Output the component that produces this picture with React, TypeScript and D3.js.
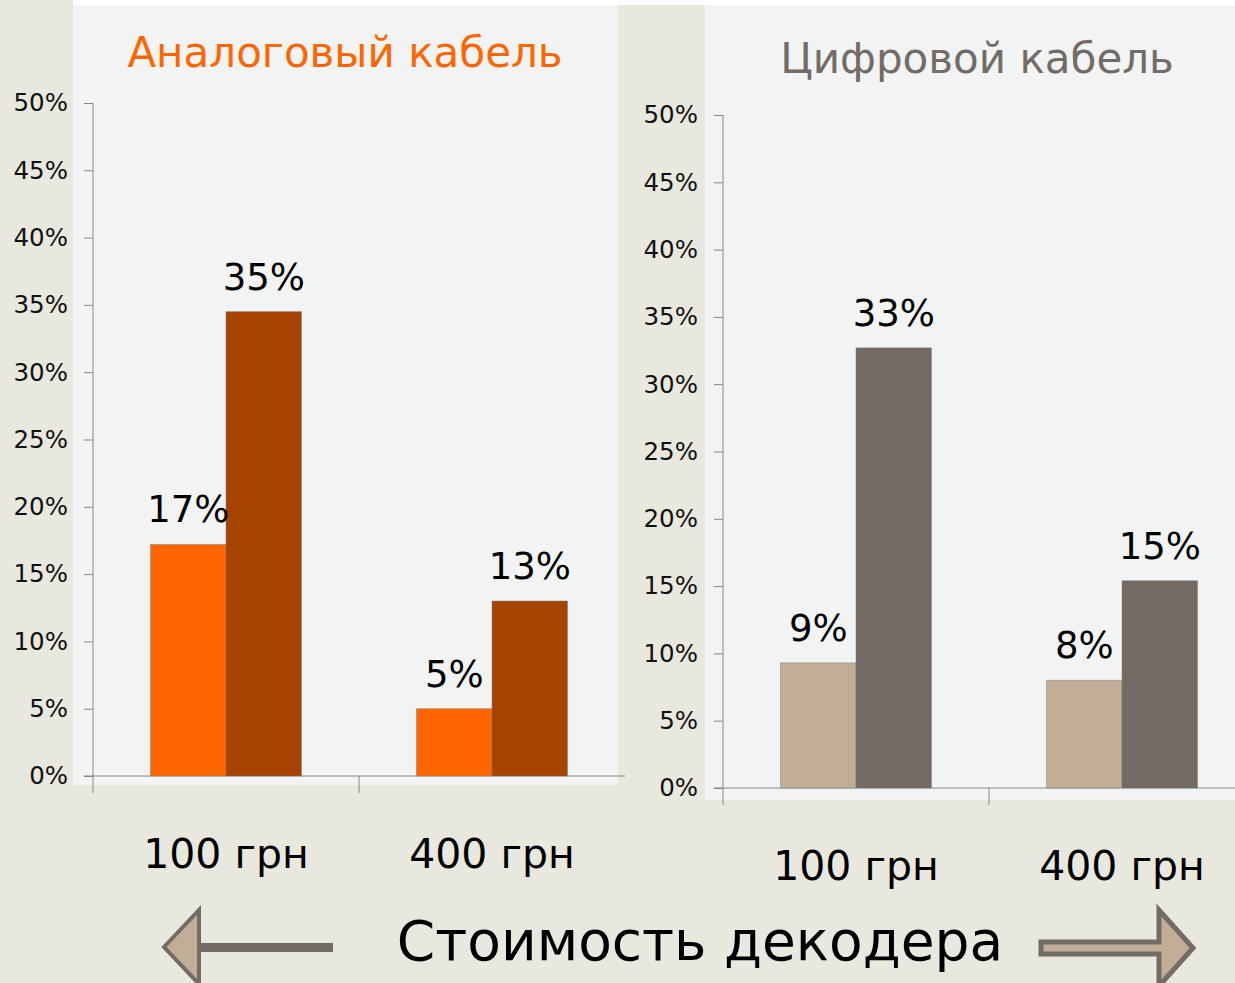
import React, { useEffect, useRef } from 'react';
import * as d3 from 'd3';

const categories = ['100 грн', '400 грн'];
const analogLight = [17.2, 5.0];
const analogDark = [34.5, 13.0];
const analogLabels = [['17%', '35%'], ['5%', '13%']];
const digitalLight = [9.3, 8.0];
const digitalDark = [32.7, 15.4];
const digitalLabels = [['9%', '33%'], ['8%', '15%']];
const yTicks = [0, 5, 10, 15, 20, 25, 30, 35, 40, 45, 50];

const FONT = '"DejaVu Sans", Verdana, sans-serif';

const App = () => {
    const svgRef = useRef<SVGSVGElement>(null);

    useEffect(() => {
        const svg = d3.select(svgRef.current);
        svg.selectAll('*').remove();

        // backgrounds
        svg.append('rect').attr('width', 1235).attr('height', 983).attr('fill', '#E9E8DE');
        svg.append('rect').attr('x', 73).attr('y', 0).attr('width', 1162).attr('height', 5).attr('fill', '#ffffff');
        svg.append('rect').attr('x', 73).attr('y', 5).attr('width', 545).attr('height', 780).attr('fill', '#F2F4F3');
        svg.append('rect').attr('x', 705).attr('y', 5).attr('width', 530).attr('height', 795).attr('fill', '#F2F4F3');

        const drawChart = (opts) => {
            const { x0, y0, title, titleColor, titleX, titleY, light, dark, labels, cLight, cDark, catY } = opts;
            const plotW = 532;
            const plotH = 673;
            const g = svg.append('g').attr('transform', `translate(${x0},${y0 - plotH})`);

            const x = d3.scaleBand().domain(categories).range([0, plotW]);
            const y = d3.scaleLinear().domain([0, 50]).range([plotH, 0]);
            const barW = 75.5;

            svg.append('text')
                .attr('x', titleX).attr('y', titleY)
                .attr('text-anchor', 'middle')
                .attr('font-family', FONT).attr('font-size', 42)
                .attr('fill', titleColor)
                .text(title);

            // y axis
            const yAxis = g.append('g')
                .call(d3.axisLeft(y).tickValues(yTicks).tickSize(9).tickPadding(16).tickFormat(d => `${d}%`));
            yAxis.select('.domain').attr('stroke', '#868686').attr('d', `M0,${plotH + 17}V0`);
            yAxis.selectAll('.tick line').attr('stroke', '#868686');
            yAxis.selectAll('.tick text')
                .attr('font-family', FONT).attr('font-size', 24.5).attr('fill', '#111');

            // x axis
            const xAxis = g.append('g').attr('transform', `translate(0,${plotH})`);
            xAxis.append('line').attr('x1', -9).attr('x2', plotW).attr('stroke', '#868686');
            xAxis.selectAll('.cat-tick')
                .data(categories.slice(1))
                .enter().append('line')
                .attr('x1', d => x(d)).attr('x2', d => x(d))
                .attr('y1', 0).attr('y2', 17)
                .attr('stroke', '#868686');

            const cats = g.selectAll('.cat')
                .data(categories)
                .enter().append('g')
                .attr('transform', d => `translate(${x(d) + x.bandwidth() / 2},0)`);

            cats.append('rect')
                .attr('x', -barW).attr('width', barW)
                .attr('y', (d, i) => y(light[i]))
                .attr('height', (d, i) => plotH - y(light[i]))
                .attr('fill', cLight)
                .attr('stroke', 'rgba(120,120,120,0.45)').attr('stroke-width', 1);

            cats.append('rect')
                .attr('x', 0).attr('width', barW)
                .attr('y', (d, i) => y(dark[i]))
                .attr('height', (d, i) => plotH - y(dark[i]))
                .attr('fill', cDark)
                .attr('stroke', 'rgba(120,120,120,0.45)').attr('stroke-width', 1);

            cats.append('text')
                .attr('x', -barW / 2).attr('y', (d, i) => y(light[i]) - 22)
                .attr('text-anchor', 'middle')
                .attr('font-family', FONT).attr('font-size', 37)
                .text((d, i) => labels[i][0]);

            cats.append('text')
                .attr('x', barW / 2).attr('y', (d, i) => y(dark[i]) - 22)
                .attr('text-anchor', 'middle')
                .attr('font-family', FONT).attr('font-size', 37)
                .text((d, i) => labels[i][1]);

            cats.append('text')
                .attr('x', 0).attr('y', catY - (y0 - plotH))
                .attr('text-anchor', 'middle')
                .attr('font-family', FONT).attr('font-size', 41)
                .text(d => d);
        };

        drawChart({
            x0: 93, y0: 776, title: 'Аналоговый кабель', titleColor: '#FF6600', titleX: 345, titleY: 67,
            light: analogLight, dark: analogDark, labels: analogLabels,
            cLight: '#FF6600', cDark: '#A64300', catY: 868
        });
        drawChart({
            x0: 723, y0: 788, title: 'Цифровой кабель', titleColor: '#736B66', titleX: 977, titleY: 73,
            light: digitalLight, dark: digitalDark, labels: digitalLabels,
            cLight: '#C2AE97', cDark: '#736A64', catY: 880
        });

        // bottom caption
        svg.append('text')
            .attr('x', 700).attr('y', 960)
            .attr('text-anchor', 'middle')
            .attr('font-family', FONT).attr('font-size', 55)
            .text('Стоимость декодера');

        // left arrow
        const la = svg.append('g');
        la.append('rect').attr('x', 199).attr('y', 943).attr('width', 134).attr('height', 9).attr('fill', '#736B66');
        la.append('path')
            .attr('d', 'M164,947 L199,910 L199,984 Z')
            .attr('fill', '#C2AE97').attr('stroke', '#736B66').attr('stroke-width', 4).attr('stroke-linejoin', 'miter');

        // right arrow
        svg.append('path')
            .attr('d', 'M1041,942 L1159,942 L1159,910 L1193,948 L1159,986 L1159,954 L1041,954 Z')
            .attr('fill', '#C2AE97').attr('stroke', '#736B66').attr('stroke-width', 5);
    }, []);

    return (
        <svg ref={svgRef} width={1235} height={983}
            style={{ position: 'absolute', left: 0, top: 0, display: 'block' }} />
    );
};

export default App;
